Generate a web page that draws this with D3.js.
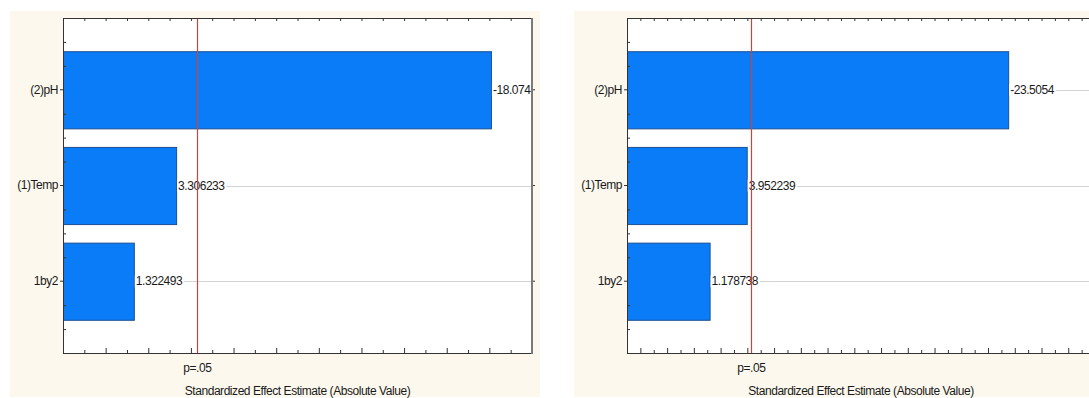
<!DOCTYPE html>
<html>
<head>
<meta charset="utf-8">
<script src="https://cdn.jsdelivr.net/npm/d3@7"></script>
<style>
  html, body { margin: 0; padding: 0; background: #ffffff; }
  svg { display: block; font-family: "Liberation Sans", Arial, sans-serif; }
</style>
</head>
<body>
<svg id="chart" width="1089" height="398"></svg>
<script>
// Pareto charts of standardized effects for two responses
const factors = ["(2)pH", "(1)Temp", "1by2"];
const effectsLeft = [-18.074, 3.306233, 1.322493];
const effectsRight = [-23.5054, 3.952239, 1.178738];
const pCritical = 4.302653;          // t(0.975, df = 2)
const pLabel = "p=.05";
const axisTitle = "Standardized Effect Estimate (Absolute Value)";
const xDomainLeft = [-2, 20];
const xDomainRight = [-5, 30];

const svg = d3.select("#chart");
const defs = svg.append("defs");

const panels = [
  { id: "a", effects: effectsLeft, domain: xDomainLeft,
    frame: [10, 11, 530, 386], plot: { left: 63, right: 532, top: 18, bottom: 353 } },
  { id: "b", effects: effectsRight, domain: xDomainRight,
    frame: [574, 11, 520, 386], plot: { left: 627, right: 1095, top: 18, bottom: 353 } }
];

const BEIGE = "#fcf8ee";
const AXIS = "#333333";
const BAR = "#0a7cf7";
const BAR_EDGE = "#1d4f93";
const PLINE = "#c8453c";
const FONT_SIZE = 12;
const SPACING = -0.45;

panels.forEach(p => {
  const P = p.plot;
  const g = svg.append("g");

  // panel background
  g.append("rect")
    .attr("x", p.frame[0]).attr("y", p.frame[1])
    .attr("width", p.frame[2]).attr("height", p.frame[3])
    .attr("fill", BEIGE);

  g.append("rect")
    .attr("x", P.left).attr("y", P.top)
    .attr("width", P.right - P.left).attr("height", P.bottom - P.top)
    .attr("fill", "#ffffff");

  const x = d3.scaleLinear().domain(p.domain).range([P.left, P.right]);
  const y = d3.scaleBand().domain(factors).range([P.top, P.bottom])
    .paddingInner(0.194).paddingOuter(0.347);
  // continuous index scale for the in-between minor ticks
  const yIdx = d3.scaleLinear()
    .domain([-0.5 - 0.25, factors.length - 0.5 + 0.25])
    .range([P.top, P.bottom]);

  const clipId = "clip-" + p.id;
  defs.append("clipPath").attr("id", clipId)
    .append("rect")
    .attr("x", P.left).attr("y", P.top)
    .attr("width", P.right - P.left).attr("height", P.bottom - P.top);

  const inner = g.append("g").attr("clip-path", `url(#${clipId})`);

  // horizontal grid lines at each factor
  inner.selectAll("line.grid").data(factors).join("line")
    .attr("class", "grid")
    .attr("x1", P.left).attr("x2", P.right)
    .attr("y1", d => Math.round(y(d) + y.bandwidth() / 2) + 0.5)
    .attr("y2", d => Math.round(y(d) + y.bandwidth() / 2) + 0.5)
    .attr("stroke", "#d4d4d4").attr("stroke-width", 1);

  const rows = factors.map((f, i) => ({ f, v: p.effects[i] }));

  // bars (absolute effect)
  inner.selectAll("rect.bar").data(rows).join("rect")
    .attr("class", "bar")
    .attr("x", P.left + 0.5)
    .attr("y", d => y(d.f) + 0.5)
    .attr("width", d => x(Math.abs(d.v)) - P.left)
    .attr("height", y.bandwidth())
    .attr("fill", BAR)
    .attr("stroke", BAR_EDGE).attr("stroke-width", 1);

  // value labels with white backing
  const labels = inner.selectAll("g.val").data(rows).join("g")
    .attr("class", "val")
    .attr("transform", d => `translate(${x(Math.abs(d.v)) + 2},${y(d.f) + y.bandwidth() / 2})`);
  labels.append("text")
    .attr("dy", "0.35em")
    .attr("font-size", FONT_SIZE)
    .attr("letter-spacing", SPACING)
    .attr("fill", "#1a1a1a")
    .text(d => String(d.v));
  labels.each(function () {
    const t = d3.select(this).select("text");
    const bb = t.node().getBBox();
    d3.select(this).insert("rect", "text")
      .attr("x", bb.x - 1).attr("y", bb.y + 1)
      .attr("width", bb.width + 2).attr("height", bb.height - 2)
      .attr("fill", "#ffffff");
  });

  // significance line
  inner.append("line")
    .attr("x1", Math.round(x(pCritical)) + 0.5).attr("x2", Math.round(x(pCritical)) + 0.5)
    .attr("y1", P.top).attr("y2", P.bottom)
    .attr("stroke", PLINE).attr("stroke-width", 1.2);

  // ticks
  const ints = d3.range(Math.ceil(p.domain[0]) + 1, p.domain[1]);
  const tickStyle = sel => {
    sel.selectAll(".tick line").attr("stroke", AXIS);
    sel.select(".domain").remove();
  };

  g.append("g").attr("transform", `translate(0,${P.bottom})`)
    .call(d3.axisBottom(x).tickValues(ints.filter(v => v % 2 !== 0)).tickSize(-3).tickFormat(""))
    .call(tickStyle);
  g.append("g").attr("transform", `translate(0,${P.bottom})`)
    .call(d3.axisBottom(x).tickValues(ints.filter(v => v % 2 === 0)).tickSize(-5).tickFormat(""))
    .call(tickStyle);
  g.append("g").attr("transform", `translate(0,${P.top})`)
    .call(d3.axisTop(x).tickValues(ints).tickSize(-3).tickFormat(""))
    .call(tickStyle);

  const minor = d3.range(-0.5, factors.length - 0.4, 0.25).filter(v => Math.abs(v - Math.round(v)) > 1e-6);
  g.append("g").attr("transform", `translate(${P.left},0)`)
    .call(d3.axisLeft(yIdx).tickValues(minor).tickSize(-3).tickFormat(""))
    .call(tickStyle);

  const yAxis = g.append("g").attr("transform", `translate(${P.left},0)`)
    .call(d3.axisLeft(y).tickSize(3).tickPadding(2));
  yAxis.select(".domain").remove();
  yAxis.selectAll(".tick line").attr("stroke", AXIS);
  yAxis.selectAll(".tick text")
    .attr("font-size", FONT_SIZE).attr("letter-spacing", SPACING)
    .attr("fill", "#1a1a1a").attr("font-family", "'Liberation Sans', Arial, sans-serif");

  g.append("g").attr("transform", `translate(${P.right},0)`)
    .call(d3.axisRight(y).tickSize(3).tickFormat(""))
    .call(tickStyle);

  // frame
  g.append("line").attr("x1", P.left).attr("x2", P.right)
    .attr("y1", P.top + 0.5).attr("y2", P.top + 0.5).attr("stroke", AXIS);
  g.append("line").attr("x1", P.left).attr("x2", P.right + 1)
    .attr("y1", P.bottom + 0.5).attr("y2", P.bottom + 0.5).attr("stroke", AXIS);
  g.append("line").attr("x1", P.left + 0.5).attr("x2", P.left + 0.5)
    .attr("y1", P.top).attr("y2", P.bottom + 1).attr("stroke", AXIS);
  g.append("line").attr("x1", P.right).attr("x2", P.right)
    .attr("y1", P.top).attr("y2", P.bottom + 1).attr("stroke", "#7a7a7a").attr("stroke-width", 2);

  // p-value marker and axis title
  g.append("text")
    .attr("x", x(pCritical)).attr("y", 372)
    .attr("text-anchor", "middle")
    .attr("font-size", FONT_SIZE).attr("letter-spacing", SPACING)
    .attr("fill", "#1a1a1a")
    .text(pLabel);

  g.append("text")
    .attr("x", (P.left + P.right) / 2).attr("y", 395)
    .attr("text-anchor", "middle")
    .attr("font-size", FONT_SIZE).attr("letter-spacing", SPACING)
    .attr("fill", "#1a1a1a")
    .text(axisTitle);
});
</script>
</body>
</html>
